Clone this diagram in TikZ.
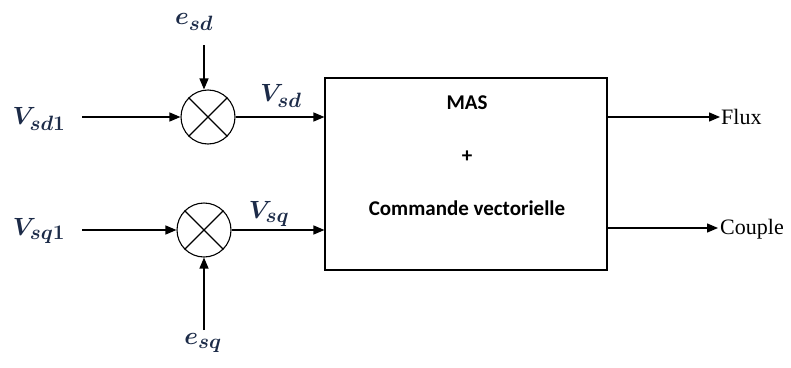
\documentclass[tikz,border=0pt]{standalone}
\usepackage{fontspec}
\newfontfamily\calib{Carlito}
\newfontfamily\timesf{Liberation Serif}
\usetikzlibrary{arrows.meta}
\definecolor{navy}{HTML}{1C2B48}
\begin{document}
\begin{tikzpicture}[x=1pt,y=-1pt,
  sumnode/.style={circle, draw, line width=1.1pt, minimum size=54pt, inner sep=0pt},
  sig/.style={-{Triangle[length=11pt,width=9pt]}, line width=1.3pt},
  mlabel/.style={text=navy, inner sep=0pt, font=\fontsize{28}{32}\selectfont\boldmath},
  boxtxt/.style={inner sep=0pt, font=\calib\bfseries\fontsize{21}{24}\selectfont},
  outtxt/.style={inner sep=0pt, anchor=west, font=\timesf\fontsize{22}{26}\selectfont}]
\useasboundingbox (0,0) rectangle (791,367);
% summing junctions
\node[sumnode] (s1) at (208,117) {};
\node[sumnode] (s2) at (204,230) {};
\foreach \s in {s1,s2}{
  \draw[line width=1.1pt] (\s.45) -- (\s.225) (\s.135) -- (\s.315);
}
% main block
\node[draw, line width=1.1pt, minimum width=282pt, minimum height=192pt, inner sep=0pt] (box) at (466,174) {};
\node[boxtxt] (mas) at (467,103) {MAS};
\node[boxtxt] (plus) at (467,157) {+};
\node[boxtxt] (cv) at (467,208) {Commande vectorielle};
% labels
\node[mlabel] (vsd1) at (39,119) {$V_{sd1}$};
\node[mlabel] (vsq1) at (39,231) {$V_{sq1}$};
\node[mlabel] (esd) at (194,22) {$e_{sd}$};
\node[mlabel] (esq) at (203,343) {$e_{sq}$};
\node[mlabel] (vsd) at (281,96) {$V_{sd}$};
\node[mlabel] (vsq) at (269,214) {$V_{sq}$};
% connector ends
\coordinate (i1) at (82,117);
\coordinate (i2) at (82,230);
\coordinate (t1) at (204,45);
\coordinate (b2) at (204,330);
\coordinate (f) at (720,117);
\coordinate (c) at (718,228);
% connectors
\draw[sig] (i1) -- (s1.west);
\draw[sig] (i2) -- (s2.west);
\draw[sig] (t1) -- (t1 |- s1.north);
\draw[sig] (b2) -- (s2.south);
\draw[sig] (s1.east) -- (box.west |- s1);
\draw[sig] (s2.east) -- (box.west |- s2);
\draw[sig] (box.east |- f) -- (f);
\draw[sig] (box.east |- c) -- (c);
\node[outtxt] (flux) at (721,117) {Flux};
\node[outtxt] (couple) at (720,229) {Couple};
\end{tikzpicture}
\end{document}
